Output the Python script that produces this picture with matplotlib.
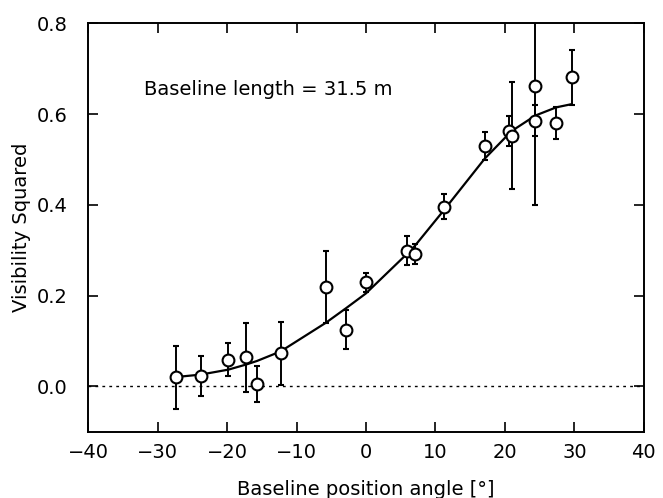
import matplotlib
matplotlib.use("Agg")
import matplotlib.pyplot as plt

angle = [-27.4, -23.8, -19.8, -17.3, -15.7, -12.3, -5.8, -2.9, 0.0, 5.9,
         7.0, 11.2, 17.1, 20.6, 21.0, 24.4, 24.3, 27.4, 29.6]
vis2 = [0.020, 0.023, 0.059, 0.064, 0.005, 0.073, 0.219, 0.125, 0.229, 0.299,
        0.291, 0.396, 0.529, 0.562, 0.552, 0.662, 0.586, 0.581, 0.681]
err = [0.070, 0.045, 0.037, 0.076, 0.039, 0.070, 0.080, 0.043, 0.021, 0.032,
       0.022, 0.027, 0.031, 0.033, 0.118, 0.262, 0.034, 0.035, 0.060]

# model curve evaluated at the data angles
model_x = [-27.1, -23.8, -19.8, -17.3, -15.7, -12.3, -5.8, -2.9, 0.0, 5.9,
           7.0, 11.2, 17.1, 20.6, 21.0, 24.4, 27.4, 29.6]
model_y = [0.021, 0.026, 0.037, 0.048, 0.056, 0.077, 0.140, 0.172, 0.205, 0.292,
           0.309, 0.388, 0.502, 0.557, 0.563, 0.597, 0.615, 0.622]

xticks = [-40, -30, -20, -10, 0, 10, 20, 30, 40]
yticks = [0.0, 0.2, 0.4, 0.6, 0.8]

plt.rcParams['font.family'] = 'DejaVu Sans'

fig = plt.figure(figsize=(6.63, 4.98), dpi=100)
ax = fig.add_axes([0.133, 0.133, 0.838, 0.820])

ax.axhline(0.0, color='black', lw=1.0, ls=(0, (2, 3)))
ax.plot(model_x, model_y, color='black', lw=1.6)
ax.errorbar(angle, vis2, yerr=err, fmt='o', ms=8.5, mfc='white', mec='black',
            mew=1.5, ecolor='black', elinewidth=1.4, capsize=2.5, capthick=1.4,
            zorder=3)

ax.text(-32, 0.655, 'Baseline length = 31.5 m', fontsize=14, va='center')

ax.set_xlim(-40, 40)
ax.set_ylim(-0.1, 0.8)
ax.set_xticks(xticks)
ax.set_yticks(yticks)
ax.set_yticklabels(['%.1f' % v for v in yticks])
ax.tick_params(direction='in', length=7, width=1.2, top=True, right=True,
               labelsize=14)
ax.tick_params(axis='x', pad=8)
ax.tick_params(axis='y', pad=15)
for s in ax.spines.values():
    s.set_linewidth(1.4)

ax.set_xlabel('Baseline position angle [°]', fontsize=14)
ax.set_ylabel('Visibility Squared', fontsize=14)
ax.xaxis.set_label_coords(0.5, -0.118)
ax.yaxis.set_label_coords(-0.103, 0.5)

fig.savefig('out.png', dpi=100)
